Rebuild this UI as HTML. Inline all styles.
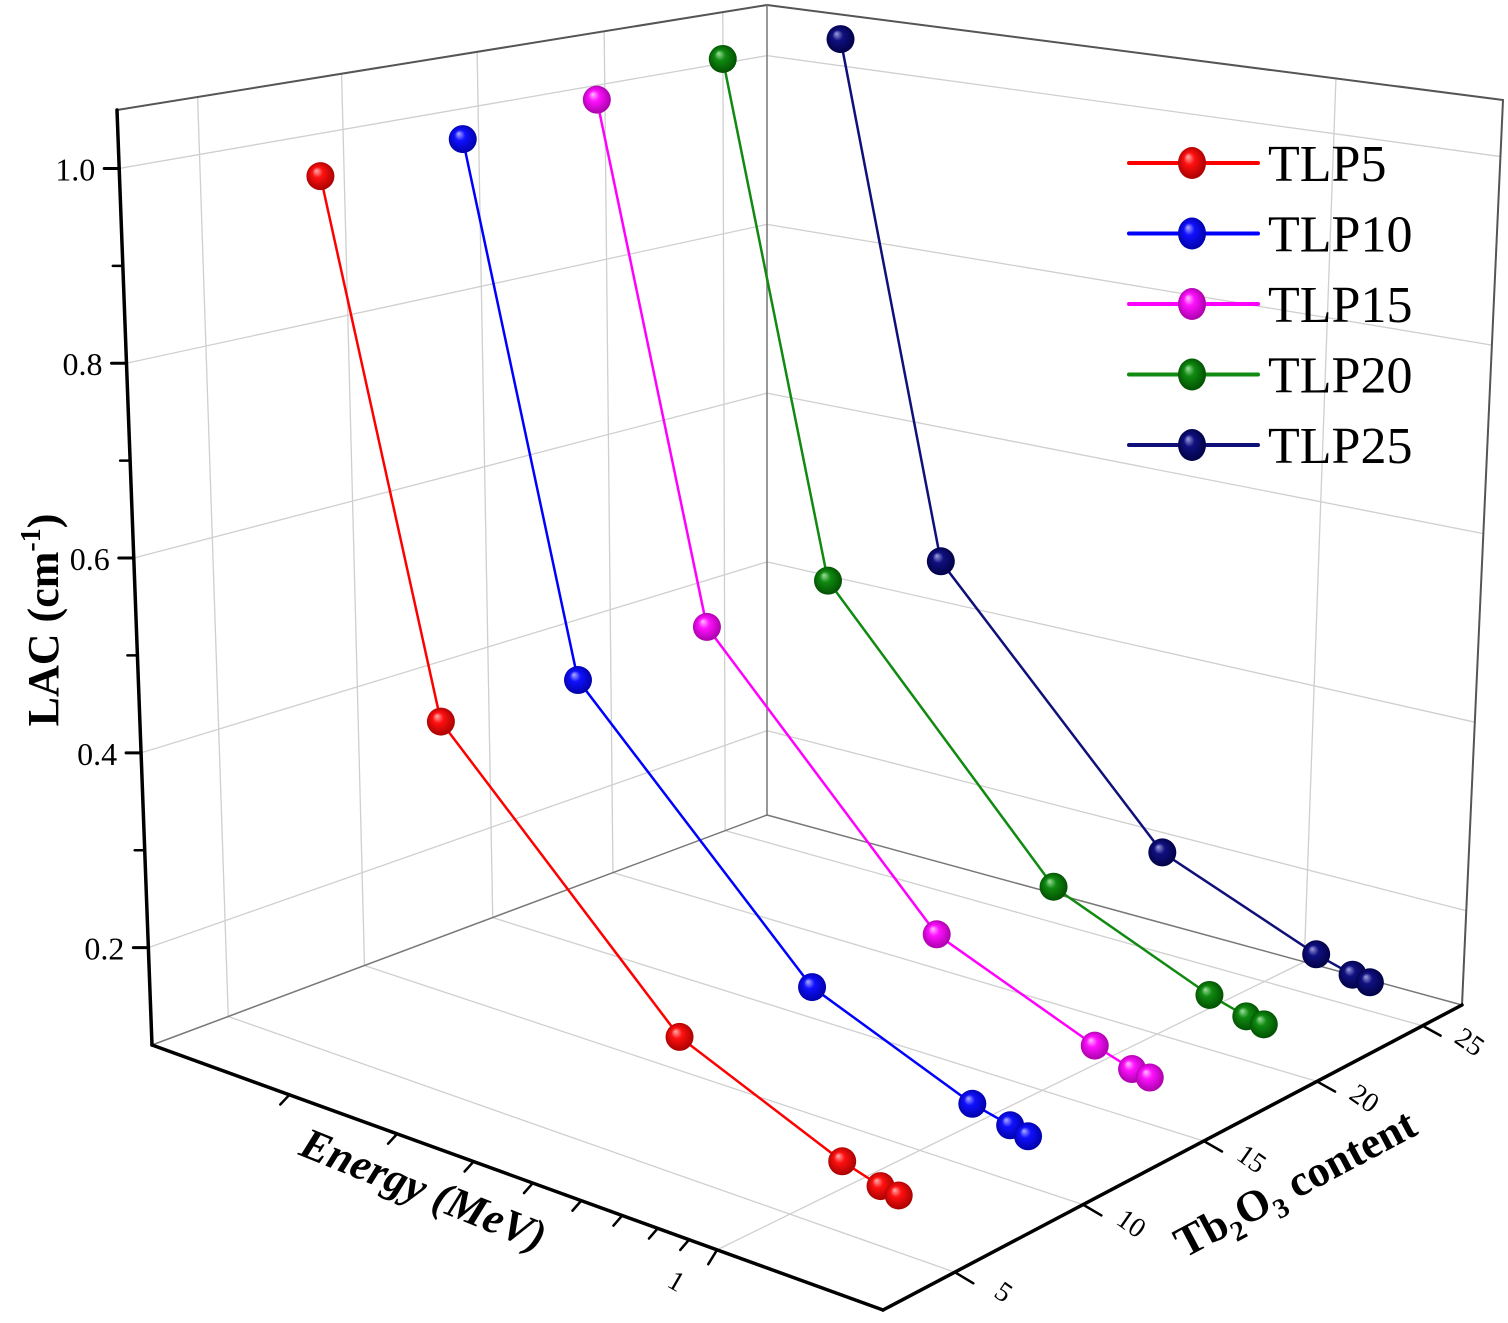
<!DOCTYPE html>
<html><head><meta charset="utf-8"><style>
html,body{margin:0;padding:0;background:#fff;}
svg{display:block;font-family:"Liberation Serif",serif;}
</style></head>
<body>
<svg id="chart" width="1508" height="1323" viewBox="0 0 1508 1323" xmlns="http://www.w3.org/2000/svg">
<defs>
<radialGradient id="g-red" cx="0.5" cy="0.5" r="0.55" fx="0.35" fy="0.3"><stop offset="0" stop-color="#ffb0b0"/><stop offset="0.35" stop-color="#ff1010"/><stop offset="1" stop-color="#a00000"/></radialGradient>
<radialGradient id="g-blue" cx="0.5" cy="0.5" r="0.55" fx="0.35" fy="0.3"><stop offset="0" stop-color="#b0b0ff"/><stop offset="0.35" stop-color="#1010ff"/><stop offset="1" stop-color="#0000a0"/></radialGradient>
<radialGradient id="g-magenta" cx="0.5" cy="0.5" r="0.55" fx="0.35" fy="0.3"><stop offset="0" stop-color="#ffc0ff"/><stop offset="0.35" stop-color="#ff10ff"/><stop offset="1" stop-color="#a000a0"/></radialGradient>
<radialGradient id="g-green" cx="0.5" cy="0.5" r="0.55" fx="0.35" fy="0.3"><stop offset="0" stop-color="#a0e0a0"/><stop offset="0.35" stop-color="#108a10"/><stop offset="1" stop-color="#004a00"/></radialGradient>
<radialGradient id="g-navy" cx="0.5" cy="0.5" r="0.55" fx="0.35" fy="0.3"><stop offset="0" stop-color="#a0a0e0"/><stop offset="0.35" stop-color="#101080"/><stop offset="1" stop-color="#000040"/></radialGradient>
</defs>
<g id="grid"></g>
<g id="box"></g>
<g id="ticks"></g>
<g id="series"></g>
<text transform="translate(58,620) rotate(-90)" text-anchor="middle" font-size="44" font-weight="bold">LAC (cm<tspan font-size="28" dy="-18">-1</tspan><tspan dy="18">)</tspan></text>
<text transform="translate(418,1203) rotate(22)" text-anchor="middle" font-size="44" font-weight="bold" font-style="italic">Energy (MeV)</text>
<text transform="translate(1302,1196) rotate(-28)" text-anchor="middle" font-size="44" font-weight="bold">Tb<tspan font-size="28" dy="10">2</tspan><tspan dy="-10">O</tspan><tspan font-size="28" dy="10">3</tspan><tspan dy="-10"> content</tspan></text>
<g id="legend"></g>
</svg>
<script>
const energies=[0.185,0.275,0.662,1.22,1.41,1.51];
const contents=[5,10,15,20,25];
const seriesNames=['TLP5','TLP10','TLP15','TLP20','TLP25'];
const lacTLP5=[1.001,0.474,0.234,0.167,0.156,0.153];
const lacTLP10=[1.012,0.471,0.227,0.162,0.153,0.148];
const lacTLP15=[1.028,0.483,0.226,0.161,0.149,0.146];
const lacTLP20=[1.048,0.491,0.223,0.156,0.145,0.142];
const lacTLP25=[1.047,0.472,0.209,0.144,0.133,0.130];
const lacTicks=[0.2,0.4,0.6,0.8,1.0];
const lacTickLabels=['0.2','0.4','0.6','0.8','1.0'];
const lacMinorTicks=[0.3,0.5,0.7,0.9];
const energyTicks=[0.2,0.3,0.4,0.5,0.6,0.7,0.8,0.9,1];
const energyMajor=[1];
const energyMajorLabels=['1'];
const contentTicks=[5,10,15,20,25];
const contentTickLabels=['5','10','15','20','25'];

const NS='http://www.w3.org/2000/svg';
const colors=['#ff0000','#0000ff','#ff00ff','#108a10','#10107a'];
const grads=['g-red','g-blue','g-magenta','g-green','g-navy'];
const allSeries=[lacTLP5,lacTLP10,lacTLP15,lacTLP20,lacTLP25];

function eScale(E){return 0.773+0.837*Math.log10(E);}
function cScale(C){return -0.1105+0.0482*C-0.00026*C*C;}
function vScale(L){return (L-0.1)/0.96;}
const F00=[152,1045],F10=[883,1310],F11=[1462,1005],F01=[767,815];
const T00=[117,110],T10=[880,250],T11=[1503,100],T01=[767,5];
function bil(a,b,c,d,e,cc){
  return [a[0]*(1-e)*(1-cc)+b[0]*e*(1-cc)+c[0]*e*cc+d[0]*(1-e)*cc,
          a[1]*(1-e)*(1-cc)+b[1]*e*(1-cc)+c[1]*e*cc+d[1]*(1-e)*cc];}
function proj(e,c,v){
  const f=bil(F00,F10,F11,F01,e,c), t=bil(T00,T10,T11,T01,e,c);
  return [f[0]+(t[0]-f[0])*v, f[1]+(t[1]-f[1])*v];
}
function line(parent,p,q,stroke,w,name){
  const l=document.createElementNS(NS,'line');
  l.setAttribute('x1',p[0]);l.setAttribute('y1',p[1]);l.setAttribute('x2',q[0]);l.setAttribute('y2',q[1]);
  l.setAttribute('stroke',stroke);l.setAttribute('stroke-width',w);l.setAttribute('stroke-linecap','round');
  
  
  parent.appendChild(l);return l;
}
function text(parent,x,y,str,size,anchor,name,rot){
  const t=document.createElementNS(NS,'text');
  t.setAttribute('x',x);t.setAttribute('y',y);t.setAttribute('font-size',size);
  t.setAttribute('text-anchor',anchor);t.textContent=str;
  if(rot)t.setAttribute('transform','rotate('+rot+' '+x+' '+y+')');
  
  
  parent.appendChild(t);return t;
}
const grid=document.getElementById('grid');
const gc='#cfcfcf';
lacTicks.forEach(L=>{
  const v=vScale(L);
  line(grid,proj(0,0,v),proj(0,1,v),gc,1.3,'left-wall-gridline');
  line(grid,proj(0,1,v),proj(1,1,v),gc,1.3,'back-wall-gridline');
});
contentTicks.forEach(C=>{
  const c=cScale(C);
  line(grid,proj(0,c,0),proj(0,c,1),gc,1.3,'left-wall-content-gridline');
  line(grid,proj(0,c,0),proj(1,c,0),gc,1.3,'floor-content-gridline');
});
energyMajor.forEach(E=>{
  const e=eScale(E);
  line(grid,proj(e,1,0),proj(e,1,1),gc,1.3,'back-wall-energy-gridline');
  line(grid,proj(e,0,0),proj(e,1,0),gc,1.3,'floor-energy-gridline');
});
const box=document.getElementById('box');
line(box,T00,T01,'#555',2,'box-top-left-edge');
line(box,T01,T11,'#555',2,'box-top-right-edge');
line(box,T11,F11,'#555',2,'box-right-edge');
line(box,T01,F01,'#777',1.5,'box-back-edge');
line(box,F00,F01,'#777',1.5,'floor-left-edge');
line(box,F01,F11,'#777',1.5,'floor-right-edge');
line(box,T00,F00,'#000',3.5,'lac-axis-line');
line(box,F00,F10,'#000',3.5,'energy-axis-line');
line(box,F10,F11,'#000',3.5,'content-axis-line');
const ticks=document.getElementById('ticks');
lacTicks.forEach((L,i)=>{
  const p=proj(0,0,vScale(L));
  line(ticks,p,[p[0]-15,p[1]],'#000',3,'lac-major-tick');
  text(ticks,p[0]-24,p[1]+12,lacTickLabels[i],32,'end','lac-tick-label');
});
lacMinorTicks.forEach(L=>{
  const p=proj(0,0,vScale(L));
  line(ticks,p,[p[0]-10,p[1]],'#000',2.5,'lac-minor-tick');
});
energyTicks.forEach(E=>{
  const e=eScale(E);
  const p=proj(e,0,0),q=proj(e,-0.015,0);
  const major=energyMajor.indexOf(E)>=0;
  line(ticks,p,[q[0],q[1]+(major?10:6)],'#000',2.5,'energy-tick');
});
energyMajor.forEach((E,i)=>{
  const p=proj(eScale(E),-0.06,0);
  text(ticks,p[0]-10,p[1]+22,energyMajorLabels[i],28,'middle','energy-tick-label',30);
});
contentTicks.forEach((C,i)=>{
  const c=cScale(C);
  const p=proj(1,c,0),q=proj(1.02,c,0);
  line(ticks,p,[q[0]+4,q[1]+6],'#000',2.5,'content-tick');
  const r=proj(1.06,c,0);
  text(ticks,r[0],r[1]+12,contentTickLabels[i],28,'middle','content-tick-label',35);
});
const sg=document.getElementById('series');
for(let s=allSeries.length-1;s>=0;s--){
  const g=document.createElementNS(NS,'g');
  
  
  sg.appendChild(g);
  const c=cScale(contents[s]);
  const pts=allSeries[s].map((L,i)=>proj(eScale(energies[i]),c,vScale(L)));
  const pl=document.createElementNS(NS,'polyline');
  pl.setAttribute('points',pts.map(p=>p.join(',')).join(' '));
  pl.setAttribute('fill','none');pl.setAttribute('stroke',colors[s]);pl.setAttribute('stroke-width',2.5);
  
  
  g.appendChild(pl);
  pts.forEach((p,i)=>{
    const ci=document.createElementNS(NS,'circle');
    ci.setAttribute('cx',p[0]);ci.setAttribute('cy',p[1]);ci.setAttribute('r',14);
    ci.setAttribute('fill','url(#'+grads[s]+')');
    
    
    g.appendChild(ci);
  });
}
const lg=document.getElementById('legend');
seriesNames.forEach((n,i)=>{
  const y=163+i*70.5;
  const g=document.createElementNS(NS,'g');
  
  
  lg.appendChild(g);
  line(g,[1129,y],[1258,y],colors[i],4,'legend-line');
  const el=document.createElementNS(NS,'ellipse');
  el.setAttribute('cx',1192);el.setAttribute('cy',y);el.setAttribute('rx',14);el.setAttribute('ry',16);
  el.setAttribute('fill','url(#'+grads[i]+')');
  
  
  g.appendChild(el);
  text(g,1268,y+18,n,52,'start','legend-label');
});
</script>
</body></html>
